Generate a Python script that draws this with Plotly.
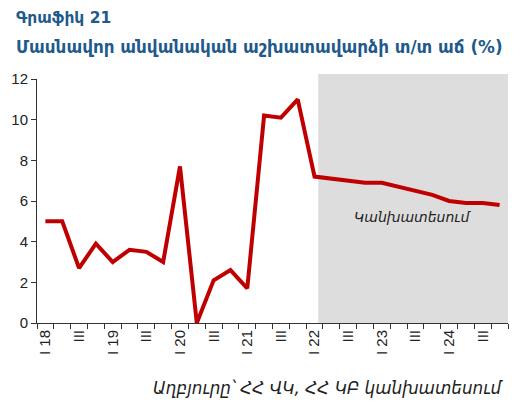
import plotly.graph_objects as go

quarters = ["2018Q1","2018Q2","2018Q3","2018Q4","2019Q1","2019Q2","2019Q3","2019Q4",
            "2020Q1","2020Q2","2020Q3","2020Q4","2021Q1","2021Q2","2021Q3","2021Q4",
            "2022Q1","2022Q2","2022Q3","2022Q4","2023Q1","2023Q2","2023Q3","2023Q4",
            "2024Q1","2024Q2","2024Q3","2024Q4"]
wage_growth = [5.0, 5.0, 2.7, 3.9, 3.0, 3.6, 3.5, 3.0,
               7.7, 0.0, 2.1, 2.6, 1.7, 10.2, 10.1, 11.0,
               7.2, 7.1, 7.0, 6.9, 6.9, 6.7, 6.5, 6.3,
               6.0, 5.9, 5.9, 5.8]
tick_labels = ["I 18", "", "III", "", "I 19", "", "III", "",
               "I 20", "", "III", "", "I 21", "", "III", "",
               "I 22", "", "III", "", "I 23", "", "III", "",
               "I 24", "", "III", ""]
y_ticks = [0, 2, 4, 6, 8, 10, 12]
forecast_start = 16.22

title1 = "Գրաֆիկ 21"
title2 = "Մասնավոր անվանական աշխատավարձի տ/տ աճ (%)"
source = "Աղբյուրը՝ ՀՀ ՎԿ, ՀՀ ԿԲ կանխատեսում"
forecast_label = "Կանխատեսում"

xs = list(range(len(quarters)))
lab_idx = [i for i, t in enumerate(tick_labels) if t]

fig = go.Figure()
fig.add_shape(type="rect", xref="x", yref="paper", x0=forecast_start, x1=len(quarters) - 0.5,
              y0=0, y1=1.02, fillcolor="#DDDDDD", line=dict(width=0), layer="below")
fig.add_trace(go.Scatter(x=xs, y=wage_growth, mode="lines",
                         line=dict(color="#C00000", width=4), hoverinfo="skip",
                         showlegend=False))

fig.update_layout(
    width=513, height=398,
    margin=dict(l=29, r=13, t=71, b=83, autoexpand=False),
    paper_bgcolor="white", plot_bgcolor="rgba(0,0,0,0)",
    font=dict(family="Arial, Liberation Sans, DejaVu Sans", color="#222222", size=15),
    xaxis=dict(range=[-0.5, len(quarters) - 0.5], tickvals=[xs[i] for i in lab_idx],
               ticktext=[tick_labels[i] for i in lab_idx], tickangle=-90,
               ticks="", showgrid=False, zeroline=False, showline=True, automargin=False,
               linecolor="#333333", linewidth=1,
               tickfont=dict(size=15, color="#222222"),
               minor=dict(tick0=-0.5, dtick=1, ticks="outside", ticklen=5,
                          tickcolor="#333333", tickwidth=1, showgrid=False)),
    yaxis=dict(range=[0, 12], tickvals=y_ticks, ticks="outside", ticklen=5, automargin=False,
               tickcolor="#333333", showgrid=False, zeroline=False, showline=True,
               linecolor="#333333", linewidth=1, tickfont=dict(size=15, color="#222222")),
    annotations=[
        dict(text="<b>" + title1 + "</b>", xref="paper", yref="paper", x=-0.0488, y=1.252,
             xanchor="left", yanchor="middle", showarrow=False,
             font=dict(family="DejaVu Sans", size=15.5, color="#1F5A8C")),
        dict(text="<b>" + title2 + "</b>", xref="paper", yref="paper", x=-0.0488, y=1.131,
             xanchor="left", yanchor="middle", showarrow=False,
             font=dict(family="DejaVu Sans", size=16.8, color="#1F5A8C")),
        dict(text="<i>" + source + "</i>", xref="paper", yref="paper", x=0.9936, y=-0.266,
             xanchor="right", yanchor="middle", showarrow=False,
             font=dict(family="DejaVu Sans", size=16.8, color="#222222")),
        dict(text="<i>" + forecast_label + "</i>", xref="x", yref="y", x=21.8, y=5.22,
             xanchor="center", yanchor="middle", showarrow=False,
             font=dict(family="DejaVu Sans", size=14, color="#222222")),
    ],
)

fig.write_html("out.html")
